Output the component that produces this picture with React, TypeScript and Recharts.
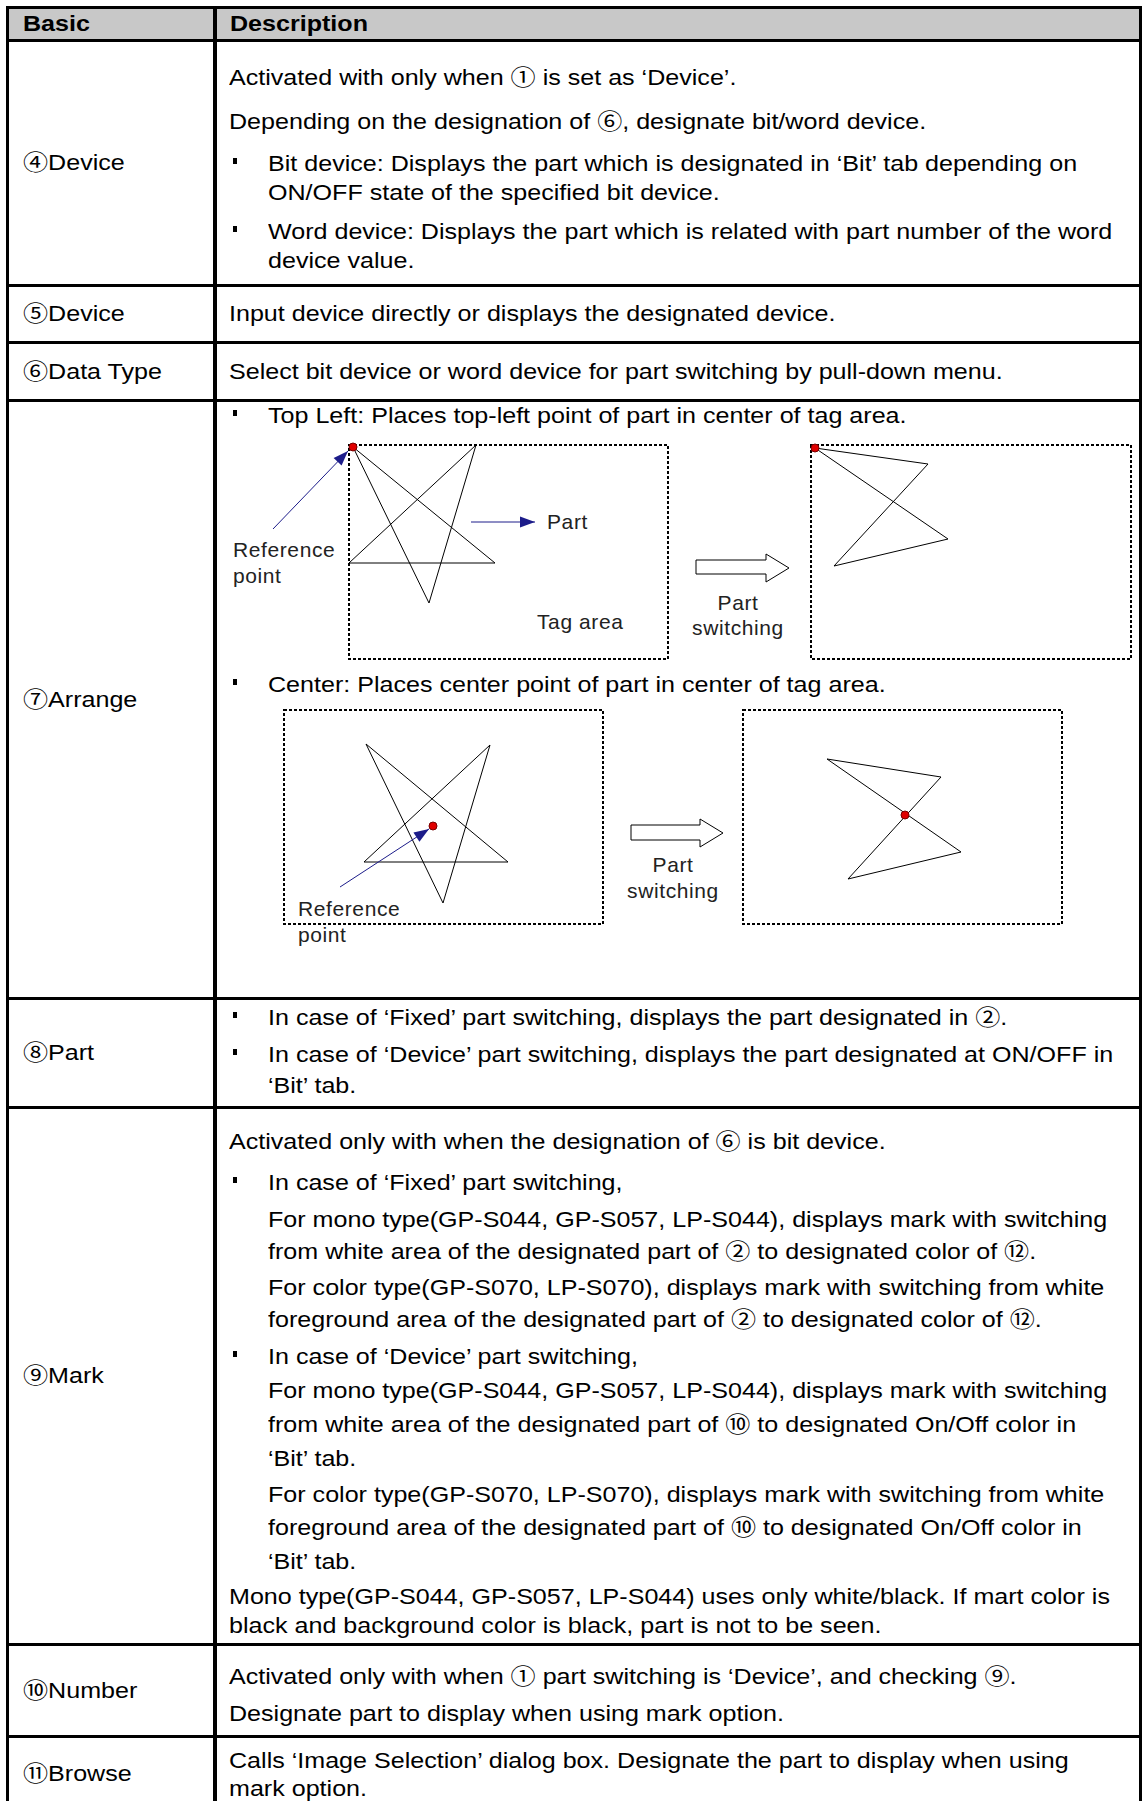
import React from 'react';
import { ComposedChart, Line, XAxis, YAxis, ReferenceArea, ReferenceDot, Scatter } from 'recharts';

const FONT = '"Liberation Sans", Arial, "Noto Sans CJK KR", sans-serif';

// ---------- table text ----------
const headerLabels = ['Basic', 'Description'];
const rowLabels = ['④Device', '⑤Device', '⑥Data Type', '⑦Arrange', '⑧Part', '⑨Mark', '⑩Number', '⑪Browse'];

type Ln = { t: string; k: 'p' | 'b' | 'c' };

const deviceLines: Ln[] = [
  { t: 'Activated with only when ① is set as ‘Device’.', k: 'p' },
  { t: 'Depending on the designation of ⑥, designate bit/word device.', k: 'p' },
  { t: 'Bit device: Displays the part which is designated in ‘Bit’ tab depending on', k: 'b' },
  { t: 'ON/OFF state of the specified bit device.', k: 'c' },
  { t: 'Word device: Displays the part which is related with part number of the word', k: 'b' },
  { t: 'device value.', k: 'c' },
];
const device2Lines: Ln[] = [{ t: 'Input device directly or displays the designated device.', k: 'p' }];
const dataTypeLines: Ln[] = [{ t: 'Select bit device or word device for part switching by pull-down menu.', k: 'p' }];
const arrangeLines: Ln[] = [
  { t: 'Top Left: Places top-left point of part in center of tag area.', k: 'b' },
  { t: 'Center: Places center point of part in center of tag area.', k: 'b' },
];
const partLines: Ln[] = [
  { t: 'In case of ‘Fixed’ part switching, displays the part designated in ②.', k: 'b' },
  { t: 'In case of ‘Device’ part switching, displays the part designated at ON/OFF in', k: 'b' },
  { t: '‘Bit’ tab.', k: 'c' },
];
const markLines: Ln[] = [
  { t: 'Activated only with when the designation of ⑥ is bit device.', k: 'p' },
  { t: 'In case of ‘Fixed’ part switching,', k: 'b' },
  { t: 'For mono type(GP-S044, GP-S057, LP-S044), displays mark with switching', k: 'c' },
  { t: 'from white area of the designated part of ② to designated color of ⑫.', k: 'c' },
  { t: 'For color type(GP-S070, LP-S070), displays mark with switching from white', k: 'c' },
  { t: 'foreground area of the designated part of ② to designated color of ⑫.', k: 'c' },
  { t: 'In case of ‘Device’ part switching,', k: 'b' },
  { t: 'For mono type(GP-S044, GP-S057, LP-S044), displays mark with switching', k: 'c' },
  { t: 'from white area of the designated part of ⑩ to designated On/Off color in', k: 'c' },
  { t: '‘Bit’ tab.', k: 'c' },
  { t: 'For color type(GP-S070, LP-S070), displays mark with switching from white', k: 'c' },
  { t: 'foreground area of the designated part of ⑩ to designated On/Off color in', k: 'c' },
  { t: '‘Bit’ tab.', k: 'c' },
  { t: 'Mono type(GP-S044, GP-S057, LP-S044) uses only white/black. If mart color is', k: 'p' },
  { t: 'black and background color is black, part is not to be seen.', k: 'p' },
];
const numberLines: Ln[] = [
  { t: 'Activated only with when ① part switching is ‘Device’, and checking ⑨.', k: 'p' },
  { t: 'Designate part to display when using mark option.', k: 'p' },
];
const browseLines: Ln[] = [
  { t: 'Calls ‘Image Selection’ dialog box. Designate the part to display when using', k: 'p' },
  { t: 'mark option.', k: 'p' },
];

// ---------- diagram 1 (Top Left) ----------
const d1Boxes = [
  { x1: 131, y1: 9, x2: 450, y2: 223 },
  { x1: 593, y1: 9, x2: 913, y2: 223 },
];
const d1Star = [
  { x: 135, y: 11 }, { x: 211, y: 167 }, { x: 258, y: 9 }, { x: 131, y: 127 }, { x: 277, y: 127 }, { x: 135, y: 11 },
];
const d1Zigzag = [
  { x: 597, y: 12 }, { x: 710, y: 28 }, { x: 616, y: 130 }, { x: 730, y: 103 }, { x: 597, y: 12 },
];
const d1Switch = [
  { x: 478, y: 124 }, { x: 548, y: 124 }, { x: 548, y: 118 }, { x: 571, y: 132 },
  { x: 548, y: 146 }, { x: 548, y: 138 }, { x: 478, y: 138 }, { x: 478, y: 124 },
];
const d1Dots = [{ x: 135, y: 11 }, { x: 597, y: 12 }];
const d1RefArrow = [{ x: 55, y: 93 }, { x: 130, y: 15 }];
const d1PartArrow = [{ x: 253, y: 86 }, { x: 317, y: 86 }];
const d1Labels = [
  { x: 329, y: 93, label: 'Part', anchor: 'start' },
  { x: 15, y: 121, label: 'Reference', anchor: 'start' },
  { x: 15, y: 147, label: 'point', anchor: 'start' },
  { x: 319, y: 193, label: 'Tag area', anchor: 'start' },
  { x: 520, y: 174, label: 'Part', anchor: 'middle' },
  { x: 520, y: 199, label: 'switching', anchor: 'middle' },
];

// ---------- diagram 2 (Center) ----------
const d2Boxes = [
  { x1: 66, y1: 10, x2: 385, y2: 224 },
  { x1: 525, y1: 10, x2: 844, y2: 224 },
];
const d2Star = [
  { x: 148, y: 44 }, { x: 225, y: 203 }, { x: 272, y: 45 }, { x: 146, y: 162 }, { x: 290, y: 162 }, { x: 148, y: 44 },
];
const d2Zigzag = [
  { x: 609, y: 59 }, { x: 723, y: 77 }, { x: 630, y: 179 }, { x: 743, y: 152 }, { x: 609, y: 59 },
];
const d2Switch = [
  { x: 413, y: 125 }, { x: 482, y: 125 }, { x: 482, y: 119 }, { x: 505, y: 133 },
  { x: 482, y: 147 }, { x: 482, y: 140 }, { x: 413, y: 140 }, { x: 413, y: 125 },
];
const d2Dots = [{ x: 215, y: 126 }, { x: 687, y: 115 }];
const d2RefArrow = [{ x: 122, y: 187 }, { x: 211, y: 129 }];
const d2Labels = [
  { x: 80, y: 216, label: 'Reference', anchor: 'start' },
  { x: 80, y: 242, label: 'point', anchor: 'start' },
  { x: 455, y: 172, label: 'Part', anchor: 'middle' },
  { x: 455, y: 198, label: 'switching', anchor: 'middle' },
];

// ---------- layout (positions only) ----------
const hBorders = [
  { y: 6, h: 3 }, { y: 39, h: 3 }, { y: 284, h: 3 }, { y: 341, h: 3 }, { y: 399, h: 3 },
  { y: 997, h: 3 }, { y: 1106, h: 3 }, { y: 1643, h: 3 }, { y: 1735, h: 3 },
];
const rowTops = [42, 287, 344, 402, 1000, 1109, 1646, 1738];
const rowBottoms = [284, 341, 399, 997, 1106, 1643, 1735, 1810];
const rowLineY = [
  [78, 122, 164, 193, 232, 261],
  [314],
  [372],
  [416, 685],
  [1018, 1055, 1086],
  [1142, 1183, 1220, 1252, 1288, 1320, 1357, 1391, 1425, 1459, 1495, 1528, 1562, 1597, 1626],
  [1677, 1714],
  [1761, 1789],
];
const rowTexts = [deviceLines, device2Lines, dataTypeLines, arrangeLines, partLines, markLines, numberLines, browseLines];

const NAVY = '#1c1c8a';

const ArrowHead = (props: any) => {
  const { cx, cy, payload } = props;
  if (cx == null || cy == null) return null;
  const ang = (Math.atan2(payload.dy, payload.dx) * 180) / Math.PI;
  return <polygon points="0,0 -15,-5.5 -15,5.5" transform={`translate(${cx},${cy}) rotate(${ang})`} fill={NAVY} />;
};

const LabelShape = (props: any) => {
  const { cx, cy, payload } = props;
  if (cx == null || cy == null) return null;
  return (
    <text x={cx} y={cy} textAnchor={payload.anchor} fontSize={21} fontFamily={FONT} fill="#222" letterSpacing={0.6}>
      {payload.label}
    </text>
  );
};

function headOf(seg: { x: number; y: number }[]) {
  const a = seg[0];
  const b = seg[seg.length - 1];
  return [{ x: b.x, y: b.y, dx: b.x - a.x, dy: b.y - a.y }];
}

type DiagramProps = {
  w: number; h: number;
  boxes: { x1: number; y1: number; x2: number; y2: number }[];
  shapes: { x: number; y: number }[][];
  dots: { x: number; y: number }[];
  arrows: { x: number; y: number }[][];
  labels: any[];
};

function Diagram({ w, h, boxes, shapes, dots, arrows, labels }: DiagramProps) {
  return (
    <ComposedChart width={w} height={h} margin={{ top: 0, right: 0, bottom: 0, left: 0 }}>
      <XAxis type="number" dataKey="x" domain={[0, w]} allowDataOverflow hide />
      <YAxis type="number" dataKey="y" domain={[0, h]} allowDataOverflow reversed hide />
      {boxes.map((b, i) => (
        <ReferenceArea key={'b' + i} x1={b.x1} x2={b.x2} y1={b.y1} y2={b.y2} fill="none" fillOpacity={0}
          stroke="#000" strokeWidth={2} strokeDasharray="3 2" ifOverflow="visible" />
      ))}
      {shapes.map((s, i) => (
        <Line key={'s' + i} data={s} dataKey="y" type="linear" stroke="#000" strokeWidth={1}
          dot={false} activeDot={false} isAnimationActive={false} />
      ))}
      {arrows.map((a, i) => (
        <Line key={'a' + i} data={a} dataKey="y" type="linear" stroke={NAVY} strokeWidth={1}
          dot={false} activeDot={false} isAnimationActive={false} />
      ))}
      {arrows.map((a, i) => (
        <Scatter key={'h' + i} data={headOf(a)} dataKey="y" shape={ArrowHead} isAnimationActive={false} />
      ))}
      <Scatter data={labels} dataKey="y" shape={LabelShape} isAnimationActive={false} />
      {dots.map((d, i) => (
        <ReferenceDot key={'d' + i} x={d.x} y={d.y} r={4} fill="#e00000" stroke="#700" strokeWidth={1} ifOverflow="visible" />
      ))}
    </ComposedChart>
  );
}

export default function App() {
  const textStyle: React.CSSProperties = {
    position: 'absolute', height: 30, lineHeight: '30px', fontSize: 22,
    whiteSpace: 'nowrap', color: '#000', transform: 'scaleX(1.14)', transformOrigin: 'left center',
  };
  return (
    <div style={{ position: 'absolute', left: 0, top: 0, width: 1143, height: 1801, overflow: 'hidden', background: '#fff', fontFamily: FONT }}>
      {/* header background */}
      <div style={{ position: 'absolute', left: 9, top: 9, width: 1130, height: 30, background: '#c8c8c8' }} />
      {/* borders */}
      {hBorders.map((b, i) => (
        <div key={'hb' + i} style={{ position: 'absolute', left: 6, top: b.y, width: 1136, height: b.h, background: '#000' }} />
      ))}
      <div style={{ position: 'absolute', left: 6, top: 6, width: 3, height: 1810, background: '#000' }} />
      <div style={{ position: 'absolute', left: 213, top: 6, width: 4, height: 1810, background: '#000' }} />
      <div style={{ position: 'absolute', left: 1139, top: 6, width: 3, height: 1810, background: '#000' }} />
      {/* header */}
      <div style={{ ...textStyle, left: 23, top: 9, fontWeight: 'bold' }}>{headerLabels[0]}</div>
      <div style={{ ...textStyle, left: 230, top: 9, fontWeight: 'bold' }}>{headerLabels[1]}</div>
      {/* row labels */}
      {rowLabels.map((l, i) => (
        <div key={'rl' + i} style={{ ...textStyle, left: 23, top: (rowTops[i] + rowBottoms[i]) / 2 - 15 }}>{l}</div>
      ))}
      {/* descriptions */}
      {rowTexts.map((lines, r) =>
        lines.map((ln, j) => {
          const y = rowLineY[r][j];
          return (
            <React.Fragment key={'t' + r + '_' + j}>
              {ln.k === 'b' && (
                <div style={{ position: 'absolute', left: 233, top: y - 6, width: 4, height: 6, background: '#000' }} />
              )}
              <div style={{ ...textStyle, left: ln.k === 'p' ? 229 : 268, top: y - 15 }}>{ln.t}</div>
            </React.Fragment>
          );
        })
      )}
      {/* diagrams */}
      <div style={{ position: 'absolute', left: 218, top: 436 }}>
        <Diagram w={920} h={230} boxes={d1Boxes} shapes={[d1Star, d1Zigzag, d1Switch]} dots={d1Dots}
          arrows={[d1RefArrow, d1PartArrow]} labels={d1Labels} />
      </div>
      <div style={{ position: 'absolute', left: 218, top: 700 }}>
        <Diagram w={920} h={260} boxes={d2Boxes} shapes={[d2Star, d2Zigzag, d2Switch]} dots={d2Dots}
          arrows={[d2RefArrow]} labels={d2Labels} />
      </div>
    </div>
  );
}
